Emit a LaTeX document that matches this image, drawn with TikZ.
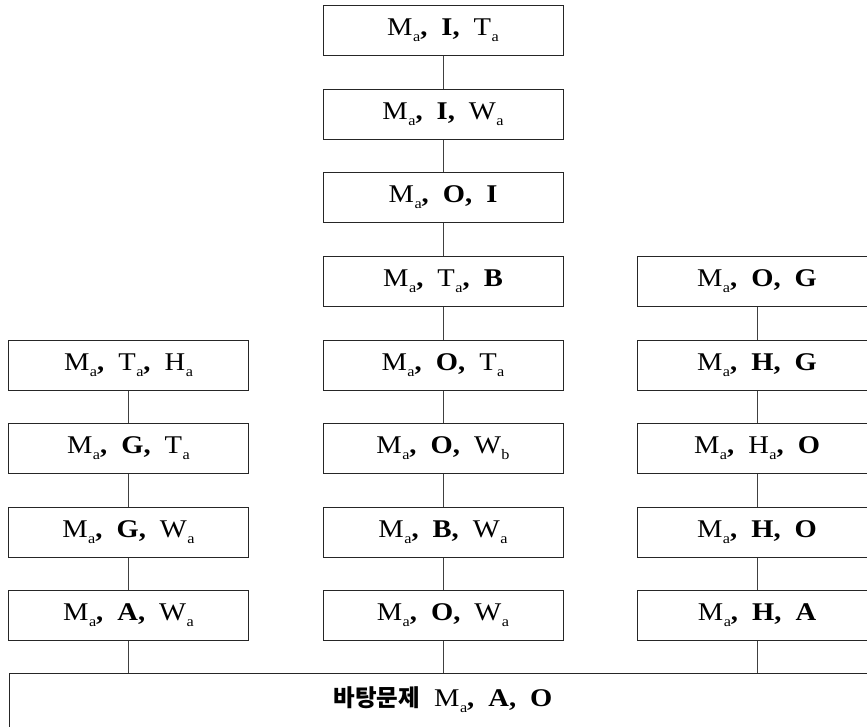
\documentclass[tikz,border=0pt]{standalone}
\usepackage{fontspec}
\setmainfont{Liberation Serif}[FakeStretch=1.12]
\newfontfamily\krfont{Noto Sans CJK KR}
\newcommand\lowsub[1]{\hspace{0.5pt}\raisebox{-6pt}{\fontsize{14.5}{15}\selectfont #1}}
\newcommand\Msa{M\lowsub{a}\textbf{,}}
\newcommand\Tsa{T\lowsub{a}}
\newcommand\Wsa{W\lowsub{a}}
\newcommand\Hsa{H\lowsub{a}}
\newcommand\sep{\hspace{0.55em}}
\begin{document}
\begin{tikzpicture}[x=1pt,y=-1pt,
  box/.style={draw=black!85,line width=1pt,minimum width=240pt,minimum height=50pt,inner sep=0pt,
    font=\fontsize{25.5}{29}\selectfont},
  link/.style={draw=black!75,line width=1pt}]
\useasboundingbox (0,0) rectangle (867,726);
\clip (0,0) rectangle (867,726);
% middle column
\node[box] (m1) at (443,30)  {\Msa\sep\textbf{I,}\sep\Tsa};
\node[box] (m2) at (443,114) {\Msa\sep\textbf{I,}\sep\Wsa};
\node[box] (m3) at (443,197) {\Msa\sep\textbf{O,}\sep\textbf{I}};
\node[box] (m4) at (443,281) {\Msa\sep\Tsa\textbf{,}\sep\textbf{B}};
\node[box] (m5) at (443,365) {\Msa\sep\textbf{O,}\sep\Tsa};
\node[box] (m6) at (443,448) {\Msa\sep\textbf{O,}\sep W\lowsub{b}};
\node[box] (m7) at (443,532) {\Msa\sep\textbf{B,}\sep\Wsa};
\node[box] (m8) at (443,615) {\Msa\sep\textbf{O,}\sep\Wsa};
% left column
\node[box] (l5) at (128.5,365) {\Msa\sep\Tsa\textbf{,}\sep\Hsa};
\node[box] (l6) at (128.5,448) {\Msa\sep\textbf{G,}\sep\Tsa};
\node[box] (l7) at (128.5,532) {\Msa\sep\textbf{G,}\sep\Wsa};
\node[box] (l8) at (128.5,615) {\Msa\sep\textbf{A,}\sep\Wsa};
% right column
\node[box] (r4) at (757,281) {\Msa\sep\textbf{O,}\sep\textbf{G}};
\node[box] (r5) at (757,365) {\Msa\sep\textbf{H,}\sep\textbf{G}};
\node[box] (r6) at (757,448) {\Msa\sep\Hsa\textbf{,}\sep\textbf{O}};
\node[box] (r7) at (757,532) {\Msa\sep\textbf{H,}\sep\textbf{O}};
\node[box] (r8) at (757,615) {\Msa\sep\textbf{H,}\sep\textbf{A}};
% base
\node[box,minimum width=868pt,minimum height=54pt] (base) at (443,700)
  {{\krfont\bfseries\fontsize{23.5}{27}\selectfont 바탕문제}\sep\Msa\sep\textbf{A,}\sep\textbf{O}};
% connectors
\foreach \a/\b in {m1/m2,m2/m3,m3/m4,m4/m5,m5/m6,m6/m7,m7/m8,
                   l5/l6,l6/l7,l7/l8,
                   r4/r5,r5/r6,r6/r7,r7/r8}
  \draw[link] (\a.south) -- (\b.north);
\foreach \a in {l8,m8,r8}
  \draw[link] (\a.south) -- (\a.south |- base.north);
\end{tikzpicture}
\end{document}
